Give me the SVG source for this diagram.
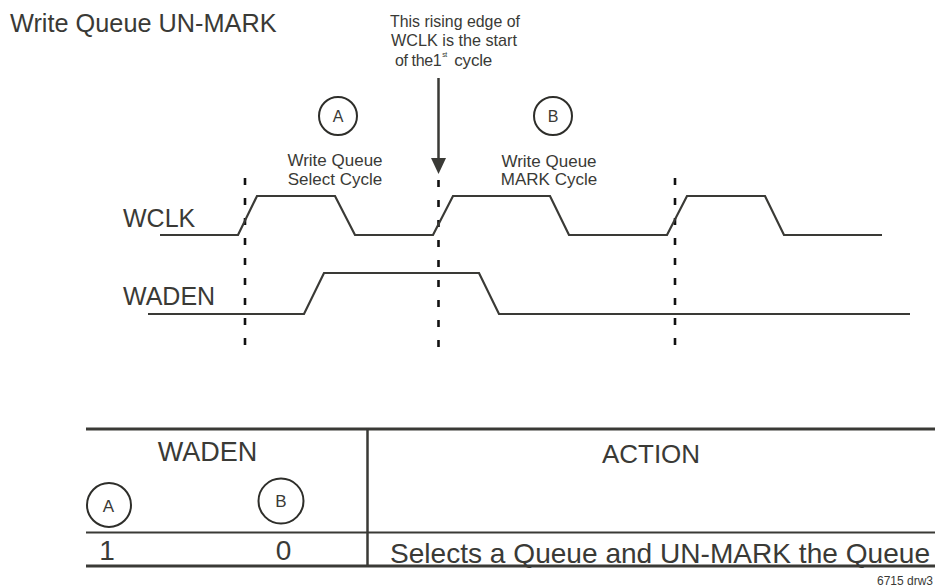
<svg xmlns="http://www.w3.org/2000/svg" width="935" height="588" viewBox="0 0 935 588">
<style>
text{font-family:"Liberation Sans",Arial,sans-serif;fill:#3a3a36}
.wave{fill:none;stroke:#3a3a36;stroke-width:2.2;stroke-linejoin:miter}
.dash{stroke:#111;stroke-width:2.6;stroke-dasharray:7 13}
.circ{fill:none;stroke:#2e2e2a;stroke-width:2}
.tbl{stroke:#3a3a36}
.note{font-size:17px}
</style>
<rect width="935" height="588" fill="#fff"/>
<text x="10" y="32" font-size="25.3">Write Queue UN-MARK</text>

<g id="note">
<text class="note" x="390" y="27" textLength="130" lengthAdjust="spacingAndGlyphs">This rising edge of</text>
<text class="note" x="391" y="46" textLength="126" lengthAdjust="spacingAndGlyphs">WCLK is the start</text>
<text x="395" y="66" font-size="16" letter-spacing="-0.4">of the1<tspan font-size="7" dy="-9" dx="1">st</tspan><tspan dy="9" dx="3" font-size="17" letter-spacing="-0.2"> cycle</tspan></text>
</g>

<g id="connectors">
<line x1="438.5" y1="78" x2="438.5" y2="160" stroke="#3a3a36" stroke-width="2.5"/>
<polygon points="431,158 446,158 438.5,174" fill="#3a3a36"/>
<line class="dash" x1="245" y1="178" x2="245" y2="350"/>
<line class="dash" x1="438.5" y1="180" x2="438.5" y2="350"/>
<line class="dash" x1="675" y1="178" x2="675" y2="350"/>
</g>

<g id="markerA">
<circle class="circ" cx="338" cy="116" r="19"/>
<text x="338" y="122" font-size="16" text-anchor="middle">A</text>
<text x="335" y="166" font-size="17" text-anchor="middle">Write Queue</text>
<text x="335" y="185" font-size="17" text-anchor="middle">Select Cycle</text>
</g>
<g id="markerB">
<circle class="circ" cx="553" cy="116" r="19"/>
<text x="553" y="122" font-size="16" text-anchor="middle">B</text>
<text x="549" y="167" font-size="17" text-anchor="middle">Write Queue</text>
<text x="549" y="185" font-size="17" text-anchor="middle">MARK Cycle</text>
</g>

<g id="wclk">
<text x="123" y="227" font-size="25">WCLK</text>
<polyline class="wave" points="160,235 238,235 257,196 335,196 355,235 433,235 453,196 550,196 569,235 667,235 687,196 765,196 784,235 882,235"/>
</g>
<g id="waden">
<text x="123" y="305" font-size="25">WADEN</text>
<polyline class="wave" points="148,314 304,314 324,273 479,273 499,314 910,314"/>
</g>

<g id="table">
<line class="tbl" x1="86" y1="429" x2="935" y2="429" stroke-width="3"/>
<line class="tbl" x1="86" y1="532.5" x2="935" y2="532.5" stroke-width="2"/>
<line class="tbl" x1="86" y1="566" x2="935" y2="566" stroke-width="3"/>
<line class="tbl" x1="367.5" y1="428" x2="367.5" y2="567" stroke-width="2.5"/>
<text x="207.5" y="461" font-size="27" text-anchor="middle">WADEN</text>
<text x="651" y="463" font-size="26" text-anchor="middle">ACTION</text>
<circle class="circ" cx="109" cy="505" r="22"/>
<text x="108.5" y="512" font-size="17" text-anchor="middle">A</text>
<circle class="circ" cx="281" cy="501" r="22.5"/>
<text x="281" y="507" font-size="17" text-anchor="middle">B</text>
<text x="107" y="560" font-size="28" text-anchor="middle">1</text>
<text x="283.5" y="560" font-size="28" text-anchor="middle">0</text>
<text x="390" y="563" font-size="28" textLength="540" lengthAdjust="spacingAndGlyphs">Selects a Queue and UN-MARK the Queue</text>
</g>
<text x="933" y="585" font-size="12" text-anchor="end">6715 drw3</text>
</svg>
